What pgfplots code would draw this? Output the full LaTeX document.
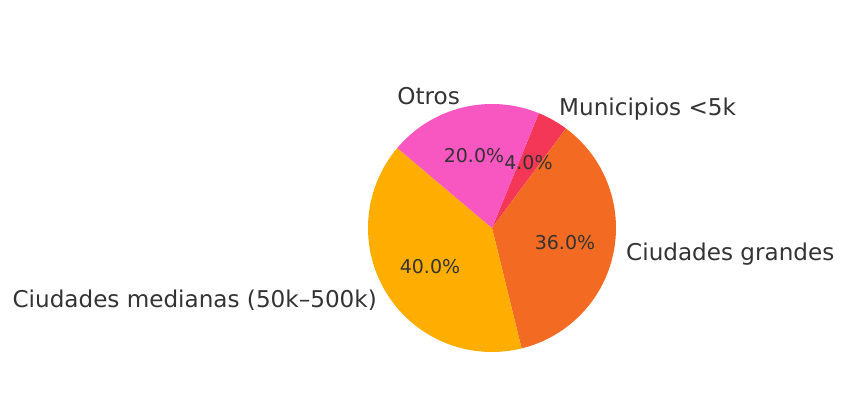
\documentclass[border=0pt]{standalone}
\usepackage{pgfplots}
\pgfplotsset{compat=1.18}
\usepackage{fontspec}
\setmainfont{DejaVu Sans}
\definecolor{cmun}{HTML}{F43756}
\definecolor{cgra}{HTML}{F36B22}
\definecolor{cmed}{HTML}{FFAE00}
\definecolor{cotr}{HTML}{F857C1}
\definecolor{txt}{HTML}{333333}
% shares (percent), clockwise from 67.8 degrees
\def\pA{4}\def\pB{36}\def\pC{40}\def\pD{20}
\def\st{67.8}
\def\cx{492}\def\cy{172}\def\R{124}
\newcommand{\lab}{\fontsize{23.1}{27}\selectfont}
\newcommand{\pct}{\fontsize{19}{22}\selectfont}
\begin{document}
\begin{tikzpicture}
\begin{axis}[
  anchor=south west, at={(0,0)},
  scale only axis, width=847pt, height=400pt,
  xmin=0, xmax=847, ymin=0, ymax=400,
  hide axis, clip=false,
]
\pgfmathsetmacro{\aA}{\st}
\pgfmathsetmacro{\aB}{\aA-3.6*\pA}
\pgfmathsetmacro{\aC}{\aB-3.6*\pB}
\pgfmathsetmacro{\aD}{\aC-3.6*\pC}
\pgfmathsetmacro{\aE}{\aD-3.6*\pD}
\edef\doslices{%
\noexpand\addplot[fill=cmun, draw=none, domain=\aB:\aA, samples=20] ({\cx+\R*cos(x)},{\cy+\R*sin(x)}) -- (axis cs:\cx,\cy) -- cycle;
\noexpand\addplot[fill=cgra, draw=none, domain=\aC:\aB, samples=80] ({\cx+\R*cos(x)},{\cy+\R*sin(x)}) -- (axis cs:\cx,\cy) -- cycle;
\noexpand\addplot[fill=cmed, draw=none, domain=\aD:\aC, samples=90] ({\cx+\R*cos(x)},{\cy+\R*sin(x)}) -- (axis cs:\cx,\cy) -- cycle;
\noexpand\addplot[fill=cotr, draw=none, domain=\aE:\aD, samples=50] ({\cx+\R*cos(x)},{\cy+\R*sin(x)}) -- (axis cs:\cx,\cy) -- cycle;
}
\doslices
% labels
\node[anchor=west, text=txt, inner sep=0pt] at (axis cs:559,291) {\lab Municipios <5k};
\node[anchor=west, text=txt, inner sep=0pt] at (axis cs:626,146) {\lab Ciudades grandes};
\node[anchor=east, text=txt, inner sep=0pt] at (axis cs:377,100) {\lab Ciudades medianas (50k–500k)};
\node[anchor=east, text=txt, inner sep=0pt] at (axis cs:460,304) {\lab Otros};
% percentages
\node[text=txt, inner sep=0pt] at (axis cs:528.5,237) {\pct 4.0\%};
\node[text=txt, inner sep=0pt] at (axis cs:565,157.5) {\pct 36.0\%};
\node[text=txt, inner sep=0pt] at (axis cs:430,133) {\pct 40.0\%};
\node[text=txt, inner sep=0pt] at (axis cs:474,244) {\pct 20.0\%};
\end{axis}
\pgfresetboundingbox
\path (0,0) rectangle (847pt,400pt);
\end{tikzpicture}
\end{document}
